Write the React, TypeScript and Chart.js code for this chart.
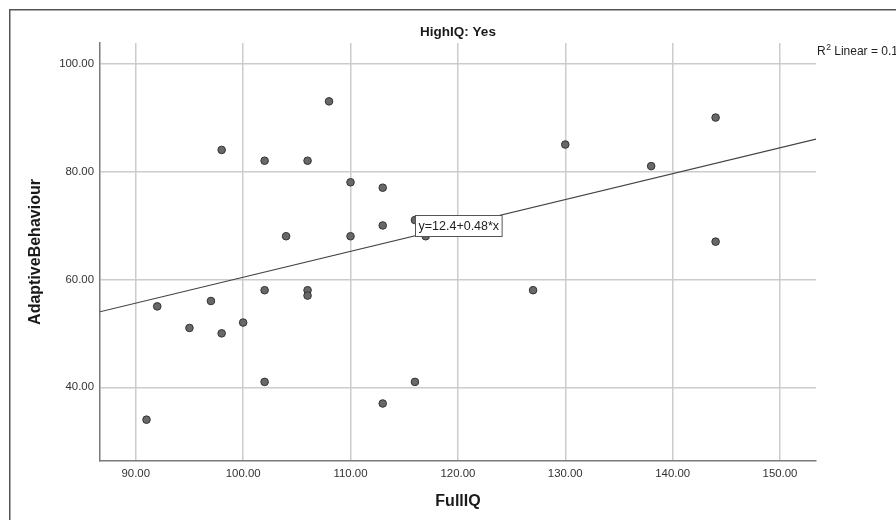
import React, { useEffect, useRef } from "react";
import { Chart, registerables } from "chart.js";

Chart.register(...registerables);

// ---- data ----
const fullIQ = [91, 92, 95, 97, 98, 98, 100, 102, 102, 102, 104, 106, 106, 106, 108, 110, 110, 113, 113, 113, 116, 117, 116, 127, 130, 138, 144, 144];
const adaptiveBehaviour = [34, 55, 51, 56, 50, 84, 52, 82, 58, 41, 68, 82, 58, 57, 93, 78, 68, 77, 70, 37, 71, 68, 41, 58, 85, 81, 90, 67];
const xTickValues = [90, 100, 110, 120, 130, 140, 150];
const yTickValues = [40, 60, 80, 100];
const xRange = [86.67, 153.35];
const yRange = [26.34, 103.82];
const fitIntercept = 12.4;
const fitSlope = 0.48;
const rSquared = 0.17;
const chartTitle = "HighIQ: Yes";
const xTitle = "FullIQ";
const yTitle = "AdaptiveBehaviour";

const FONT = '"Liberation Sans", Arial, sans-serif';

const annotations = {
  id: "spssAnnotations",
  beforeDraw(chart: any) {
    const { ctx } = chart;
    ctx.save();
    ctx.strokeStyle = "#555555";
    ctx.lineWidth = 1.5;
    ctx.strokeRect(9.75, 9.75, 1000, 1000);
    ctx.restore();
  },
  afterDraw(chart: any) {
    const { ctx, chartArea, scales } = chart;
    const x = scales.x;
    const y = scales.y;
    ctx.save();
    // title
    ctx.fillStyle = "#1a1a1a";
    ctx.font = `bold 13.5px ${FONT}`;
    ctx.textAlign = "center";
    ctx.textBaseline = "alphabetic";
    ctx.fillText(chartTitle, (chartArea.left + chartArea.right) / 2, 35.7);

    // R^2 label
    ctx.textAlign = "left";
    ctx.fillStyle = "#222222";
    let tx = chartArea.right + 1;
    const ty = 55;
    ctx.font = `12px ${FONT}`;
    ctx.fillText("R", tx, ty);
    tx += ctx.measureText("R").width;
    ctx.font = `8.5px ${FONT}`;
    ctx.fillText("2", tx + 0.5, ty - 5);
    tx += ctx.measureText("2").width + 0.5;
    ctx.font = `12px ${FONT}`;
    ctx.fillText(" Linear = " + rSquared.toFixed(2), tx, ty);

    // equation box
    const xm = (x.min + x.max) / 2;
    const px = x.getPixelForValue(xm);
    const py = y.getPixelForValue(fitIntercept + fitSlope * xm);
    const label = `y=${fitIntercept}+${fitSlope}*x`;
    ctx.font = `12.5px ${FONT}`;
    const w = ctx.measureText(label).width + 6;
    const h = 21;
    const bx = Math.round(px - w / 2) + 0.5;
    const by = Math.round(py - h / 2) + 0.5;
    ctx.fillStyle = "#ffffff";
    ctx.fillRect(bx, by, w, h);
    ctx.strokeStyle = "#555555";
    ctx.lineWidth = 1;
    ctx.strokeRect(bx, by, w, h);
    ctx.fillStyle = "#222222";
    ctx.textAlign = "center";
    ctx.textBaseline = "middle";
    ctx.fillText(label, bx + w / 2, by + h / 2 + 0.5);
    ctx.restore();
  },
};

export default function App() {
  const ref = useRef<HTMLCanvasElement | null>(null);

  useEffect(() => {
    if (!ref.current) return;
    const points = fullIQ.map((v, i) => ({ x: v, y: adaptiveBehaviour[i] }));
    const fitLine = [
      { x: xRange[0], y: fitIntercept + fitSlope * xRange[0] },
      { x: xRange[1], y: fitIntercept + fitSlope * xRange[1] },
    ];
    const chart = new Chart(ref.current, {
      type: "scatter",
      data: {
        datasets: [
          {
            label: "points",
            data: points,
            pointRadius: 3.8,
            pointBackgroundColor: "#686868",
            pointBorderColor: "#333333",
            pointBorderWidth: 1,
            order: 0,
          },
          {
            type: "line",
            label: "fit",
            data: fitLine,
            showLine: true,
            borderColor: "#444444",
            borderWidth: 1.2,
            pointRadius: 0,
            fill: false,
            order: 1,
          } as any,
        ],
      },
      options: {
        animation: false,
        responsive: false,
        devicePixelRatio: 1,
        layout: { padding: { left: 0, right: 80, top: 43, bottom: 0 } },
        plugins: {
          legend: { display: false },
          tooltip: { enabled: false },
          title: { display: false },
        },
        scales: {
          x: {
            type: "linear",
            min: xRange[0],
            max: xRange[1],
            afterBuildTicks: (s: any) => {
              s.ticks = xTickValues.map((v) => ({ value: v }));
            },
            afterFit: (s: any) => {
              s.height = 59;
            },
            grid: { color: "#cccccc", lineWidth: 1.5, drawTicks: false },
            border: { color: "#7a7a7a", width: 1.5 },
            ticks: {
              padding: 6,
              color: "#333333",
              font: { family: FONT, size: 11.4 },
              callback: (v: any) => Number(v).toFixed(2),
            },
            title: {
              display: true,
              text: xTitle,
              color: "#1a1a1a",
              font: { family: FONT, size: 16, weight: "bold" },
              padding: { top: 0, bottom: 8.7 },
            },
          },
          y: {
            type: "linear",
            min: yRange[0],
            max: yRange[1],
            afterBuildTicks: (s: any) => {
              s.ticks = yTickValues.map((v) => ({ value: v }));
            },
            afterFit: (s: any) => {
              s.width = 100;
            },
            grid: { color: "#cccccc", lineWidth: 1.5, drawTicks: false },
            border: { color: "#7a7a7a", width: 1.5 },
            ticks: {
              padding: 6,
              color: "#333333",
              font: { family: FONT, size: 11.4 },
              callback: (v: any) => Number(v).toFixed(2),
            },
            title: {
              display: true,
              text: yTitle,
              color: "#1a1a1a",
              font: { family: FONT, size: 16, weight: "bold" },
              padding: { top: 26.4, bottom: 0 },
            },
          },
        },
      },
      plugins: [annotations],
    });
    return () => chart.destroy();
  }, []);

  return (
    <div style={{ position: "absolute", left: 0, top: 0, width: 896, height: 520, background: "#ffffff" }}>
      <canvas ref={ref} width={896} height={520} style={{ display: "block", width: 896, height: 520 }} />
    </div>
  );
}
